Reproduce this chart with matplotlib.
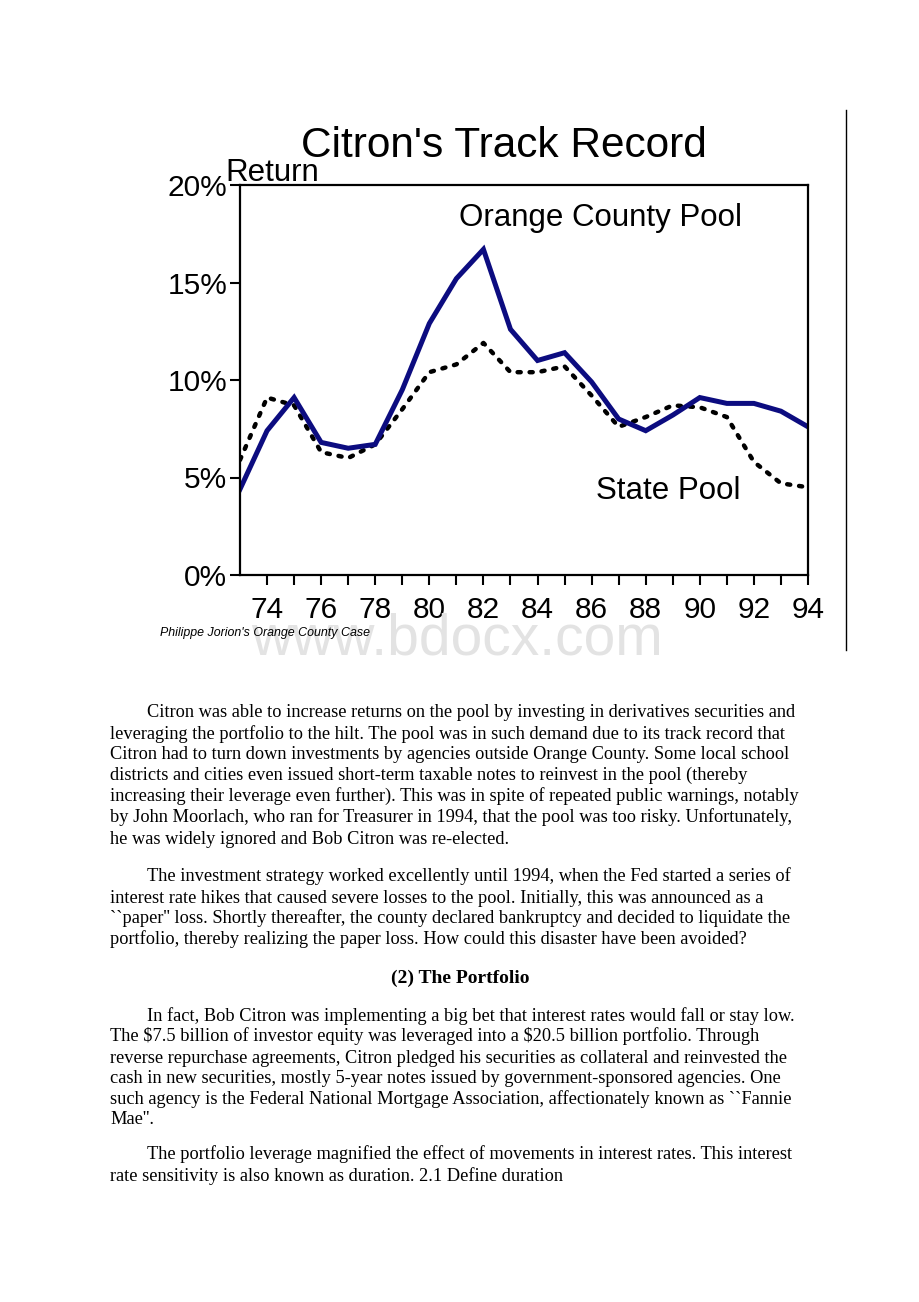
import numpy as np
import matplotlib
matplotlib.use("Agg")
import matplotlib.pyplot as plt

# chart data
years = np.arange(73, 95)
county_pool = [4.4, 7.4, 9.1, 6.8, 6.5, 6.7, 9.5, 12.9, 15.2, 16.7, 12.6,
               11.0, 11.4, 9.9, 8.0, 7.4, 8.2, 9.1, 8.8, 8.8, 8.4, 7.6]
state_pool = [5.9, 9.1, 8.7, 6.3, 6.0, 6.7, 8.5, 10.4, 10.8, 11.9, 10.4,
              10.4, 10.7, 9.2, 7.6, 8.1, 8.7, 8.6, 8.1, 5.8, 4.7, 4.5]
ytick_vals = [0, 5, 10, 15, 20]
ytick_labels = ["0%", "5%", "10%", "15%", "20%"]
xtick_vals = list(range(74, 95, 2))
xtick_labels = [str(y) for y in xtick_vals]

para1 = ["Citron was able to increase returns on the pool by investing in derivatives securities and",
         "leveraging the portfolio to the hilt. The pool was in such demand due to its track record that",
         "Citron had to turn down investments by agencies outside Orange County. Some local school",
         "districts and cities even issued short-term taxable notes to reinvest in the pool (thereby",
         "increasing their leverage even further). This was in spite of repeated public warnings, notably",
         "by John Moorlach, who ran for Treasurer in 1994, that the pool was too risky. Unfortunately,",
         "he was widely ignored and Bob Citron was re-elected."]
para2 = ["The investment strategy worked excellently until 1994, when the Fed started a series of",
         "interest rate hikes that caused severe losses to the pool. Initially, this was announced as a",
         "``paper'' loss. Shortly thereafter, the county declared bankruptcy and decided to liquidate the",
         "portfolio, thereby realizing the paper loss. How could this disaster have been avoided?"]
heading = "(2) The Portfolio"
para3 = ["In fact, Bob Citron was implementing a big bet that interest rates would fall or stay low.",
         "The $7.5 billion of investor equity was leveraged into a $20.5 billion portfolio. Through",
         "reverse repurchase agreements, Citron pledged his securities as collateral and reinvested the",
         "cash in new securities, mostly 5-year notes issued by government-sponsored agencies. One",
         "such agency is the Federal National Mortgage Association, affectionately known as ``Fannie",
         "Mae''."]
para4 = ["The portfolio leverage magnified the effect of movements in interest rates. This interest",
         "rate sensitivity is also known as duration. 2.1 Define duration"]

W, H = 920, 1302
fig = plt.figure(figsize=(W / 100, H / 100), dpi=100)
fig.patch.set_facecolor("white")

def fy(y):
    return 1 - y / H

def fx(x):
    return x / W

sans = "Liberation Sans"
serif = "Liberation Serif"

# the chart
ax = fig.add_axes([fx(240), fy(575), (808 - 240) / W, (575 - 185) / H])
ax.plot(years, state_pool, color="black", lw=3.2, linestyle=(0, (0.7, 2.0)),
        dash_capstyle="round")
ax.plot(years, county_pool, color="#0c0c80", lw=3.6, solid_joinstyle="miter")
ax.set_xlim(73, 94)
ax.set_ylim(0, 20)
ax.set_yticks(ytick_vals)
ax.set_yticklabels(ytick_labels, fontsize=21.5, family=sans)
ax.set_xticks(list(range(74, 95)))
ax.set_xticklabels([str(y) if y % 2 == 0 else "" for y in range(74, 95)],
                   fontsize=21.5, family=sans)
ax.tick_params(axis="both", direction="out", length=7, width=1.5, color="black")
ax.tick_params(axis="x", pad=8)
ax.tick_params(axis="y", pad=2)
for s in ax.spines.values():
    s.set_linewidth(1.6)
ax.text(81.1, 17.9, "Orange County Pool", fontsize=22.5, family=sans)
ax.text(86.15, 3.9, "State Pool", fontsize=22.5, family=sans)

fig.text(fx(504), fy(157), "Citron's Track Record", fontsize=30.5, family=sans,
         ha="center", va="baseline")
fig.text(fx(225), fy(181), "Return", fontsize=22.5, family=sans, va="baseline")
fig.text(fx(160), fy(636), "Philippe Jorion's Orange County Case", fontsize=8.9,
         family=sans, style="italic", va="baseline")
fig.text(fx(457), fy(655), "www.bdocx.com", fontsize=41, family=sans,
         color="#e3e3e3", ha="center", va="baseline", zorder=0)

# vertical rule at the right of the chart
fig.add_artist(plt.Line2D([fx(846), fx(846)], [fy(110), fy(650)],
                          color="black", lw=1))

# body text
body_size = 13.2

def put_para(lines, ys, indent=147, left=110):
    for i, (line, y) in enumerate(zip(lines, ys)):
        x = indent if i == 0 else left
        fig.text(fx(x), fy(y), line, fontsize=body_size, family=serif,
                 va="baseline", parse_math=False)

put_para(para1, [717, 739, 759, 780, 801, 822, 844])
put_para(para2, [881, 903, 923, 944])
fig.text(fx(460), fy(983), heading, fontsize=14, family=serif,
         weight="bold", ha="center", va="baseline")
put_para(para3, [1021, 1041, 1063, 1083, 1104, 1124])
put_para(para4, [1159, 1181])

fig.savefig("out.png", dpi=100)
